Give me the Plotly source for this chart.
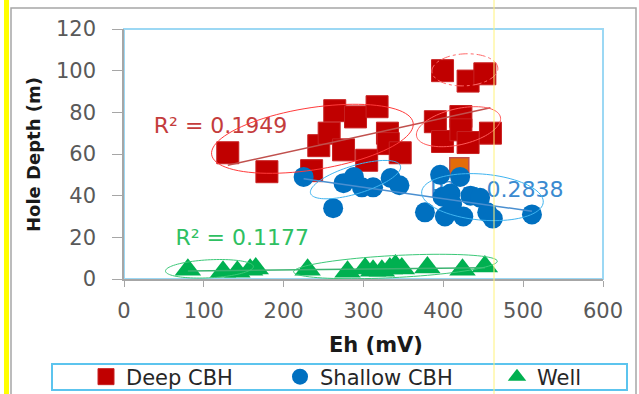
import numpy as np
import plotly.graph_objects as go

# ---- data: redox potential (Eh, mV) against hole depth (m) ----
deep_eh = [130, 179, 235, 244, 257, 264, 275, 290, 304, 317, 330, 331, 346,
           390, 399, 399, 422, 422, 431, 431, 452, 459]
deep_depth = [60.6, 51.5, 52.0, 64.0, 70.0, 80.8, 62.0, 77.8, 57.0, 82.7, 70.0, 65.0, 60.6,
              75.5, 100.0, 66.0, 78.0, 71.6, 95.0, 65.5, 98.5, 70.0]
deep_flag_eh = [420]
deep_flag_depth = [53.6]

shallow_eh = [225, 262, 275, 288, 298, 312, 334, 345, 377, 396, 399, 402, 409, 411,
              421, 425, 434, 446, 455, 462, 511]
shallow_depth = [49, 34, 46, 49, 44, 44, 48.5, 45, 32, 50, 39.5, 30, 41, 36,
                 49, 30, 40, 39, 32, 29, 31]

well_eh = [80, 124, 142, 158, 165, 230, 280, 302, 312, 323, 333, 340, 348, 380, 424, 452]
well_depth = [4.5, 3.5, 3.5, 4.5, 5.0, 4.5, 3.5, 5.0, 4.0, 4.0, 5.0, 6.5, 5.0, 5.5, 4.5, 6.0]

series_names = ["Deep CBH", "Shallow CBH", "Well"]
r2_labels = ["R² = 0.1949", "R² = 0.2838", "R² = 0.1177"]
r2_label_eh = [121, 467, 148]
r2_label_depth = [72.5, 42, 19]

x_ticks = [0, 100, 200, 300, 400, 500, 600]
y_ticks = [0, 20, 40, 60, 80, 100, 120]

# ---- geometry ----
W, H = 639, 394
L, R, T, B = 124, 36, 29, 115
PW, PH = W - L - R, H - T - B
X0, X1 = 0, 600
Y0, Y1 = 0, 120
SX, SY = PW / (X1 - X0), PH / (Y1 - Y0)


def px(xp):
    return (xp - L) / PW


def py(yp):
    return (H - B - yp) / PH


def ellipse_path(cx, cy, a, b, tilt, n=90):
    """Closed ellipse path in data units; a, b are screen-pixel semi-axes."""
    t = np.linspace(0, 2 * np.pi, n + 1)
    th = np.radians(tilt)
    du, dv = a * np.cos(t), b * np.sin(t)
    dx = du * np.cos(th) - dv * np.sin(th)
    dy = du * np.sin(th) + dv * np.cos(th)
    xs, ys = cx + dx / SX, cy + dy / SY
    return "M " + " L ".join(f"{x:.2f},{y:.3f}" for x, y in zip(xs, ys)) + " Z"


RED, BLUE, GREEN = "#C00000", "#0070C0", "#00B050"
FONT = "DejaVu Sans"

fig = go.Figure()

# R² labels sit underneath the markers
label_colors = ["#C43C3C", "#3A8AD0", "#2EC062"]
for txt, xv, yv, col in zip(r2_labels, r2_label_eh, r2_label_depth, label_colors):
    fig.add_trace(go.Scatter(x=[xv], y=[yv], mode="text", text=[txt],
                             textfont=dict(family=FONT, size=22, color=col),
                             showlegend=False, hoverinfo="skip", cliponaxis=False))

fig.add_trace(go.Scatter(x=deep_eh, y=deep_depth, mode="markers", name=series_names[0],
                         marker=dict(symbol="square", size=22, color=RED,
                                     line=dict(width=1, color="#C82020")),
                         legend="legend"))
fig.add_trace(go.Scatter(x=deep_flag_eh, y=deep_flag_depth, mode="markers",
                         marker=dict(symbol="square", size=19, color="#E36C09",
                                     line=dict(width=1.5, color="#C0504D")),
                         showlegend=False))
fig.add_trace(go.Scatter(x=shallow_eh, y=shallow_depth, mode="markers", name=series_names[1],
                         marker=dict(symbol="circle", size=20, color=BLUE),
                         legend="legend2"))
fig.add_trace(go.Scatter(x=well_eh, y=well_depth, mode="markers", name=series_names[2],
                         marker=dict(symbol="triangle-up", size=23, color=GREEN),
                         legend="legend3"))

# linear trendlines over each series' Eh span
trend_colors = ["#C0504D", "#4A8FD0", "#3CB371"]
for xs, ys, col in zip([deep_eh, shallow_eh, well_eh],
                       [deep_depth, shallow_depth, well_depth], trend_colors):
    k, c = np.polyfit(xs, ys, 1)
    xl = np.array([min(xs), max(xs)])
    fig.add_trace(go.Scatter(x=xl, y=k * xl + c, mode="lines",
                             line=dict(color=col, width=1.5),
                             showlegend=False, hoverinfo="skip"))

# hand-drawn group outlines: (centre Eh, centre depth, a px, b px, tilt deg, colour, dash)
outlines = [
    (236, 67.3, 102, 31, 9, "#FF3B3B", "solid"),
    (419, 73.1, 43, 18, 13, "#FF5A5A", "solid"),
    (427, 100.4, 33, 16, 3, "#FF6A6A", "dashdot"),
    (290, 47.7, 47, 14, 17, "#3FB4F0", "solid"),
    (449, 39.3, 61, 23, -5, "#3FB4F0", "solid"),
    (107, 4.9, 44, 9, 3, "#3CC878", "solid"),
    (340, 6.0, 102, 11, 3, "#3CC878", "solid"),
]
shapes = []
for cx, cy, a, b, tilt, col, dash in outlines:
    shapes.append(dict(type="path", xref="x", yref="y", path=ellipse_path(cx, cy, a, b, tilt),
                       line=dict(color=col, width=1, dash=dash), layer="above"))

# plot-area frame (top/right in light blue)
shapes.append(dict(type="rect", xref="paper", yref="paper", x0=0, y0=0, x1=1, y1=1,
                   line=dict(color="#9CD8F4", width=2), layer="below"))
# outer chart border
shapes.append(dict(type="rect", xref="paper", yref="paper",
                   x0=px(11), x1=px(636), y0=py(8), y1=py(400),
                   line=dict(color="#A6A6A6", width=1.5)))
# legend box
shapes.append(dict(type="rect", xref="paper", yref="paper",
                   x0=px(52), x1=px(627), y0=py(364), y1=py(390),
                   line=dict(color="#5CC4EE", width=2)))
# yellow highlight strip on the left edge and a thin guide line
shapes.append(dict(type="rect", xref="paper", yref="paper",
                   x0=px(4), x1=px(9), y0=py(0), y1=py(394),
                   fillcolor="#FFFF00", line=dict(width=0)))
shapes.append(dict(type="line", xref="paper", yref="paper",
                   x0=px(494), x1=px(494), y0=py(0), y1=py(394),
                   line=dict(color="#FFF27A", width=1)))

legend_common = dict(orientation="v", bgcolor="rgba(0,0,0,0)", borderwidth=0,
                     font=dict(family=FONT, size=21, color="#262626"),
                     xanchor="left", yanchor="middle", y=py(377))

fig.update_layout(
    width=W, height=H,
    margin=dict(l=L, r=R, t=T, b=B, autoexpand=False),
    paper_bgcolor="white", plot_bgcolor="white",
    shapes=shapes,
    xaxis=dict(range=[X0, X1], tickvals=x_ticks, ticktext=[str(v) for v in x_ticks],
               showgrid=False, zeroline=False, showline=True, linecolor="#A6A6A6",
               linewidth=1.5, ticks="outside", ticklen=6, tickcolor="#A6A6A6",
               tickfont=dict(family=FONT, size=21, color="#595959"),
               ticklabelstandoff=6, automargin=False),
    yaxis=dict(range=[Y0, Y1], tickvals=y_ticks, ticktext=[str(v) for v in y_ticks],
               showgrid=False, zeroline=False, showline=True, linecolor="#A6A6A6",
               linewidth=1.5, ticks="outside", ticklen=10, tickcolor="#A6A6A6",
               tickfont=dict(family=FONT, size=21, color="#595959"),
               ticklabelstandoff=12, automargin=False),
    legend=dict(legend_common, x=px(86)),
    legend2=dict(legend_common, x=px(280)),
    legend3=dict(legend_common, x=px(497)),
    annotations=[
        dict(text="<b>Eh (mV)</b>", xref="paper", yref="paper", x=px(376), y=py(345),
             xanchor="center", yanchor="middle",
             showarrow=False, font=dict(family=FONT, size=21, color="#1A1A1A")),
        dict(text="<b>Hole Depth (m)</b>", xref="paper", yref="paper", x=px(33), y=py(155),
             xanchor="center", yanchor="middle",
             textangle=-90, showarrow=False, font=dict(family=FONT, size=18, color="#1A1A1A")),
    ],
)

fig.write_html("out.html")
